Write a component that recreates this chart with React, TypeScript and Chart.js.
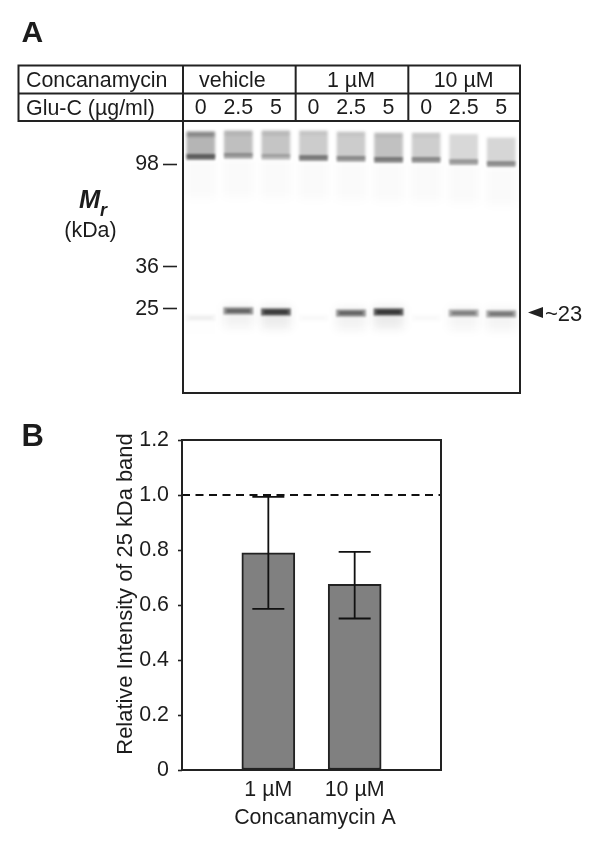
import React, { useEffect, useRef } from "react";
import { Chart, registerables } from "chart.js";

Chart.register(...registerables);

// ---------- Panel A data ----------
const laneLabels = ["0", "2.5", "5", "0", "2.5", "5", "0", "2.5", "5"];
const groupLabels = ["vehicle", "1 µM", "10 µM"];
const headerLabels = ["Concanamycin", "Glu-C (µg/ml)"];
const markerLabels = ["98", "36", "25"];
const markerMigration = [15.5, 53.5, 69]; // % of gel length
const smearTop = [3.7, 3.3, 3.3, 3.3, 3.7, 4.1, 4.1, 4.6, 5.9];
const highBand = [12.9, 12.5, 12.9, 13.3, 13.6, 14, 14, 14.8, 15.5];
const smearIntensity = [0.32, 0.28, 0.25, 0.22, 0.22, 0.27, 0.21, 0.17, 0.18];
const topEdgeIntensity = [0.3, 0.08, 0.08, 0.04, 0.04, 0.05, 0.04, 0, 0];
const highBandIntensity = [0.62, 0.34, 0.24, 0.5, 0.4, 0.48, 0.42, 0.36, 0.42];
const lowBand = [72.3, 69.7, 70.1, 72.3, 70.5, 70.1, 72.3, 70.5, 70.8];
const lowBandIntensity = [0.05, 0.62, 0.92, 0.02, 0.62, 0.95, 0.02, 0.48, 0.52];
const bandAnnotation = "~23";
const bandAnnotationMigration = 70.3;

// ---------- Panel B data ----------
const concLabels = ["", "1 µM", "10 µM", ""];
const relIntensity = [null, 0.79, 0.675, null];
const errUpper = [null, 0.993, 0.793, null];
const errLower = [null, 0.586, 0.551, null];
const referenceLine = [1, 1, 1, 1];
const yTitle = "Relative Intensity of 25 kDa band";
const xTitle = "Concanamycin A";

const FONT = "'Liberation Sans', Arial, sans-serif";
const INK = "#222222";
const TEXT = "#1c1c1c";
const gray = (a: number) => `rgba(25,25,25,${a})`;

function gelConfig(): any {
  const range = (c: number[], lo: number, hi: number) => c.map((v) => [v + lo, v + hi]);
  const gelPlugin = {
    id: "gel",
    beforeDatasetDraw(chart: any, args: any) {
      const soft = chart.data.datasets[args.index].soft;
      chart.ctx.filter = `blur(${soft}px)`;
    },
    afterDatasetDraw(chart: any) {
      chart.ctx.filter = "none";
    },
    afterDraw(chart: any) {
      const { ctx, chartArea: a, scales } = chart;
      const y = scales.y;
      ctx.save();
      ctx.strokeStyle = INK;
      ctx.lineWidth = 2;
      // frame of the gel
      ctx.strokeRect(a.left + 1, a.top - 1, a.right - a.left - 1, a.bottom - a.top + 1);
      // header table
      const tTop = 65.5, tMid = 93.5, tBot = 121;
      ctx.strokeRect(18.5, tTop, a.right - 18.5, tBot - tTop);
      ctx.beginPath();
      ctx.moveTo(18.5, tMid);
      ctx.lineTo(a.right, tMid);
      const third = (a.right - a.left) / 3;
      [0, 1, 2].forEach((i) => {
        ctx.moveTo(a.left + i * third + 1, tTop);
        ctx.lineTo(a.left + i * third + 1, tBot);
      });
      ctx.stroke();
      ctx.fillStyle = TEXT;
      ctx.textBaseline = "alphabetic";
      ctx.textAlign = "left";
      ctx.font = `21.4px ${FONT}`;
      ctx.fillText(headerLabels[0], 26, 87);
      ctx.fillText(headerLabels[1], 26, 115);
      ctx.textAlign = "center";
      groupLabels.forEach((g, i) => {
        const shift = i === 0 ? -6 : 0;
        ctx.fillText(g, a.left + (i + 0.5) * third + shift, 87);
      });
      // panel letter
      ctx.textAlign = "left";
      ctx.font = `bold 30px ${FONT}`;
      ctx.fillText("A", 21.5, 42);
      // Mr (kDa)
      ctx.font = `italic bold 25.5px ${FONT}`;
      ctx.fillText("M", 79, 208);
      ctx.font = `italic bold 18px ${FONT}`;
      ctx.fillText("r", 100, 216);
      ctx.font = `21.4px ${FONT}`;
      ctx.textAlign = "center";
      ctx.fillText("(kDa)", 90.5, 237);
      // band arrow
      const ay = y.getPixelForValue(bandAnnotationMigration);
      ctx.fillStyle = INK;
      ctx.beginPath();
      ctx.moveTo(528, ay);
      ctx.lineTo(543, ay - 5.5);
      ctx.lineTo(543, ay + 5.5);
      ctx.closePath();
      ctx.fill();
      ctx.fillStyle = TEXT;
      ctx.textAlign = "left";
      ctx.font = `22px ${FONT}`;
      ctx.fillText(bandAnnotation, 545, ay + 8);
      ctx.restore();
    },
  };

  const datasets: any[] = [
    {
      label: "background haze",
      data: range(highBand, 1, 15),
      backgroundColor: "rgba(25,25,25,0.02)",
      barThickness: 30,
      soft: 5,
    },
    {
      label: "smear",
      data: smearTop.map((t, i) => [t, highBand[i]]),
      backgroundColor: smearIntensity.map(gray),
      barThickness: 28,
      soft: 1.6,
    },
    {
      label: "smear upper edge",
      data: range(smearTop, 0, 1.6),
      backgroundColor: topEdgeIntensity.map(gray),
      barThickness: 27,
      soft: 1.6,
    },
    {
      label: "high band",
      data: range(highBand, -0.9, 0.9),
      backgroundColor: highBandIntensity.map(gray),
      barThickness: 28,
      soft: 1.3,
    },
    {
      label: "low band haze",
      data: range(lowBand, -2, 6),
      backgroundColor: lowBandIntensity.map((v) => gray(v * 0.09)),
      barThickness: 29,
      soft: 4,
    },
    {
      label: "low band",
      data: range(lowBand, -1.2, 1.2),
      backgroundColor: lowBandIntensity.map((v) => gray(v * 0.72)),
      barThickness: 29,
      soft: 1.3,
    },
    {
      label: "low band core",
      data: range(lowBand, -0.45, 0.45),
      backgroundColor: lowBandIntensity.map((v) => gray(v * 0.7)),
      barThickness: 23,
      soft: 1,
    },
  ];

  return {
    type: "bar",
    data: { labels: laneLabels, datasets },
    plugins: [gelPlugin],
    options: {
      animation: false,
      responsive: false,
      layout: { padding: { left: 0, right: 80, top: 0, bottom: 17 } },
      plugins: { legend: { display: false }, tooltip: { enabled: false } },
      datasets: { bar: { grouped: false, borderWidth: 0 } },
      scales: {
        x: {
          position: "top",
          offset: true,
          afterFit: (s: any) => {
            s.height = 122;
          },
          grid: { display: false, drawTicks: false },
          border: { display: false },
          ticks: {
            color: TEXT,
            font: { family: FONT, size: 21.4 },
            padding: 1,
            maxRotation: 0,
            autoSkip: false,
          },
        },
        y: {
          min: 0,
          max: 100,
          reverse: true,
          afterFit: (s: any) => {
            s.width = 182;
          },
          afterBuildTicks: (s: any) => {
            s.ticks = markerMigration.map((value) => ({ value }));
          },
          border: { display: false },
          grid: {
            drawOnChartArea: false,
            tickLength: 19,
            tickBorderDash: [14, 30],
            tickColor: INK,
            tickWidth: 1.6,
          },
          ticks: {
            color: TEXT,
            font: { family: FONT, size: 21.4 },
            padding: 4,
            autoSkip: false,
            callback: (v: number) => markerLabels[markerMigration.indexOf(v)],
          },
        },
      },
    },
  };
}

function barConfig(): any {
  const framePlugin = {
    id: "frame",
    afterDatasetsDraw(chart: any) {
      const { ctx, scales } = chart;
      const { x, y } = scales;
      ctx.save();
      ctx.strokeStyle = "#111111";
      ctx.lineWidth = 1.8;
      relIntensity.forEach((v, i) => {
        if (v === null) return;
        const px = x.getPixelForValue(i);
        const hi = y.getPixelForValue(errUpper[i]);
        const lo = y.getPixelForValue(errLower[i]);
        ctx.beginPath();
        ctx.moveTo(px, hi);
        ctx.lineTo(px, lo);
        ctx.moveTo(px - 16, hi);
        ctx.lineTo(px + 16, hi);
        ctx.moveTo(px - 16, lo);
        ctx.lineTo(px + 16, lo);
        ctx.stroke();
      });
      ctx.restore();
    },
    afterDraw(chart: any) {
      const { ctx, chartArea: a } = chart;
      ctx.save();
      ctx.strokeStyle = INK;
      ctx.lineWidth = 2;
      ctx.strokeRect(a.left, a.top, a.right - a.left, a.bottom - a.top);
      ctx.fillStyle = TEXT;
      ctx.textBaseline = "alphabetic";
      ctx.textAlign = "left";
      ctx.font = `bold 31px ${FONT}`;
      ctx.fillText("B", 21.5, 36);
      ctx.textAlign = "center";
      ctx.font = `21.4px ${FONT}`;
      ctx.fillText(xTitle, 315, 414);
      ctx.translate(132, 184);
      ctx.rotate(-Math.PI / 2);
      ctx.font = `21.9px ${FONT}`;
      ctx.fillText(yTitle, 0, 0);
      ctx.restore();
    },
  };

  return {
    type: "bar",
    data: {
      labels: concLabels,
      datasets: [
        {
          type: "line",
          label: "vehicle reference",
          data: referenceLine,
          borderColor: "#111111",
          borderWidth: 1.8,
          borderDash: [8, 5.5],
          pointRadius: 0,
          order: 0,
        },
        {
          label: "Relative intensity",
          data: relIntensity,
          backgroundColor: "#808080",
          borderColor: INK,
          borderWidth: 2,
          borderSkipped: false,
          barThickness: 53,
          order: 1,
        },
      ],
    },
    plugins: [framePlugin],
    options: {
      animation: false,
      responsive: false,
      layout: { padding: { left: 0, right: 159, top: 30, bottom: 0 } },
      plugins: { legend: { display: false }, tooltip: { enabled: false } },
      scales: {
        x: {
          offset: false,
          afterFit: (s: any) => {
            s.height = 78;
          },
          grid: { display: false, drawTicks: false },
          border: { display: false },
          ticks: {
            color: TEXT,
            font: { family: FONT, size: 21.4 },
            padding: 7,
            maxRotation: 0,
            autoSkip: false,
          },
        },
        y: {
          min: 0,
          max: 1.2,
          afterFit: (s: any) => {
            s.width = 182;
          },
          border: { display: false },
          grid: {
            drawOnChartArea: false,
            tickLength: 4,
            tickColor: INK,
            tickWidth: 1.6,
          },
          ticks: {
            stepSize: 0.2,
            color: TEXT,
            font: { family: FONT, size: 21.4 },
            padding: 9,
            callback: (v: number) => (v === 0 ? "0" : Number(v).toFixed(1)),
          },
        },
      },
    },
  };
}

export default function App() {
  const gelRef = useRef<HTMLCanvasElement>(null);
  const barRef = useRef<HTMLCanvasElement>(null);
  useEffect(() => {
    const gel = new Chart(gelRef.current as any, gelConfig());
    const bar = new Chart(barRef.current as any, barConfig());
    return () => {
      gel.destroy();
      bar.destroy();
    };
  }, []);
  return (
    <div style={{ position: "absolute", left: 0, top: 0, width: 600, height: 848, background: "#fff" }}>
      <canvas ref={gelRef} width={600} height={410} style={{ position: "absolute", left: 0, top: 0 }} />
      <canvas ref={barRef} width={600} height={438} style={{ position: "absolute", left: 0, top: 410 }} />
    </div>
  );
}
